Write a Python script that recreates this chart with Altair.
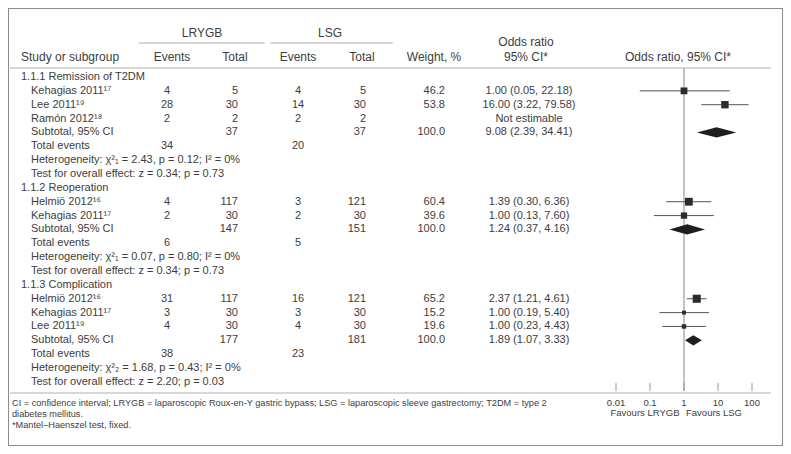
import altair as alt
import pandas as pd

FONT = "Liberation Sans"
TXT = "#3d3d3d"
LINE = "#b0b0b0"
BORDER = "#8c8c8c"
MARK = "#2b2b2b"

# ---------------- data ----------------
row_labels = [
    "1.1.1 Remission of T2DM", "Kehagias 2011\u00b9\u2077", "Lee 2011\u00b9\u2079", "Ram\u00f3n 2012\u00b9\u2078",
    "Subtotal, 95% CI", "Total events",
    "Heterogeneity: \u03c7\u00b2\u2081 = 2.43, p = 0.12; I\u00b2 = 0%",
    "Test for overall effect: z = 0.34; p = 0.73",
    "1.1.2 Reoperation", "Helmi\u00f6 2012\u00b9\u2076", "Kehagias 2011\u00b9\u2077",
    "Subtotal, 95% CI", "Total events",
    "Heterogeneity: \u03c7\u00b2\u2081 = 0.07, p = 0.80; I\u00b2 = 0%",
    "Test for overall effect: z = 0.34; p = 0.73",
    "1.1.3 Complication", "Helmi\u00f6 2012\u00b9\u2076", "Kehagias 2011\u00b9\u2077", "Lee 2011\u00b9\u2079",
    "Subtotal, 95% CI", "Total events",
    "Heterogeneity: \u03c7\u00b2\u2082 = 1.68, p = 0.43; I\u00b2 = 0%",
    "Test for overall effect: z = 2.20; p = 0.03",
]
row_heading = [True, False, False, False, False, False, False, False,
               True, False, False, False, False, False, False,
               True, False, False, False, False, False, False, False]
lrygb_events = ["", "4", "28", "2", "", "34", "", "",
                "", "4", "2", "", "6", "", "",
                "", "31", "3", "4", "", "38", "", ""]
lrygb_total = ["", "5", "30", "2", "37", "", "", "",
               "", "117", "30", "147", "", "", "",
               "", "117", "30", "30", "177", "", "", ""]
lsg_events = ["", "4", "14", "2", "", "20", "", "",
              "", "3", "2", "", "5", "", "",
              "", "16", "3", "4", "", "23", "", ""]
lsg_total = ["", "5", "30", "2", "37", "", "", "",
             "", "121", "30", "151", "", "", "",
             "", "121", "30", "30", "181", "", "", ""]
weights = ["", "46.2", "53.8", "", "100.0", "", "", "",
           "", "60.4", "39.6", "100.0", "", "", "",
           "", "65.2", "15.2", "19.6", "100.0", "", "", ""]
or_text = ["", "1.00 (0.05, 22.18)", "16.00 (3.22, 79.58)", "Not estimable", "9.08 (2.39, 34.41)", "", "", "",
           "", "1.39 (0.30, 6.36)", "1.00 (0.13, 7.60)", "1.24 (0.37, 4.16)", "", "", "",
           "", "2.37 (1.21, 4.61)", "1.00 (0.19, 5.40)", "1.00 (0.23, 4.43)", "1.89 (1.07, 3.33)", "", "", ""]

study_rows = [1, 2, 9, 10, 16, 17, 18]
study_or = [1.00, 16.00, 1.39, 1.00, 2.37, 1.00, 1.00]
study_lo = [0.05, 3.22, 0.30, 0.13, 1.21, 0.19, 0.23]
study_hi = [22.18, 79.58, 6.36, 7.60, 4.61, 5.40, 4.43]
study_w = [46.2, 53.8, 60.4, 39.6, 65.2, 15.2, 19.6]

sub_rows = [4, 11, 19]
sub_or = [9.08, 1.24, 1.89]
sub_lo = [2.39, 0.37, 1.07]
sub_hi = [34.41, 4.16, 3.33]

tick_vals = [0.01, 0.1, 1, 10, 100]
tick_text = ["0.01", "0.1", "1", "10", "100"]

header_top = ["LRYGB", "LSG", "Odds ratio"]
header_bottom = ["Study or subgroup", "Events", "Total", "Events", "Total",
                 "Weight, %", "95% CI*", "Odds ratio, 95% CI*"]
favours = ["Favours LRYGB", "Favours LSG"]
footnotes = [
    "CI = confidence interval; LRYGB = laparoscopic Roux-en-Y gastric bypass; LSG = laparoscopic sleeve gastrectomy; T2DM = type 2",
    "diabetes mellitus.",
    "*Mantel\u2013Haenszel test, fixed.",
]

# ---------------- tables ----------------
table = pd.DataFrame({
    "row": list(range(len(row_labels))), "label": row_labels, "heading": row_heading,
    "ev1": lrygb_events, "tot1": lrygb_total, "ev2": lsg_events, "tot2": lsg_total,
    "w": weights, "ci": or_text,
})
studies = pd.DataFrame({"row": study_rows, "or": study_or, "lo": study_lo,
                        "hi": study_hi, "w": study_w})
dia_pts = []
for r, e, lo, hi in zip(sub_rows, sub_or, sub_lo, sub_hi):
    dia_pts += [dict(g=r, x=lo, ya=r, yb=r),
                dict(g=r, x=e, ya=r - 0.37, yb=r + 0.37),
                dict(g=r, x=hi, ya=r, yb=r)]
diamonds = pd.DataFrame(dia_pts)
ticks = pd.DataFrame({"v": tick_vals, "t": tick_text})

# ---------------- scales ----------------
YS = alt.Scale(domain=[0, 22], range=[69, 373.9], nice=False, zero=False)
XS = alt.Scale(type="log", domain=[0.01, 100], range=[608, 744], nice=False)


def Y(f):
    return alt.Y(f, scale=YS, axis=None)


def X(f):
    return alt.X(f, scale=XS, axis=None)


def col(field, x, align, filt=None):
    c = alt.Chart(table).mark_text(align=align, baseline="middle", font=FONT,
                                   fontSize=11, color=TXT)
    if filt is not None:
        c = c.transform_filter(filt)
    return c.encode(x=alt.value(x), y=Y("row:Q"), text=f"{field}:N")


def label(text, x, y, size=11, align="center"):
    return alt.Chart(pd.DataFrame({"t": [text]})).mark_text(
        align=align, baseline="middle", font=FONT, fontSize=size, color=TXT
    ).encode(x=alt.value(x), y=alt.value(y), text="t:N")


def hline(x1, x2, y, color=LINE, w=1):
    return alt.Chart(pd.DataFrame({"a": [0]})).mark_rule(color=color, strokeWidth=w).encode(
        x=alt.value(x1), x2=alt.value(x2), y=alt.value(y))


def vline(x, y1, y2, color=BORDER, w=1):
    return alt.Chart(pd.DataFrame({"a": [0]})).mark_rule(color=color, strokeWidth=w).encode(
        x=alt.value(x), y=alt.value(y1), y2=alt.value(y2))


layers = []
# outer frame
layers += [
    hline(0, 775, 0.5, BORDER), hline(0, 775, 437.5, BORDER),
    vline(0.5, 0, 438), vline(774.5, 0, 438),
]
# header
layers += [
    label(header_top[0], 194, 25, 12), label(header_top[1], 322, 25, 12),
    label(header_top[2], 518, 34, 12),
    label(header_bottom[0], 13, 49, 12, "left"),
    label(header_bottom[1], 164, 49, 12), label(header_bottom[2], 227, 49, 12),
    label(header_bottom[3], 290, 49, 12), label(header_bottom[4], 354, 49, 12),
    label(header_bottom[5], 426, 49, 12), label(header_bottom[6], 518, 49, 12),
    label(header_bottom[7], 670, 49, 12),
    hline(131, 257, 35), hline(262, 385, 35),
    hline(2, 763, 60), hline(2, 763, 385),
]
# table columns
layers += [
    col("label", 13, "left", "datum.heading"),
    col("label", 23, "left", "!datum.heading"),
    col("ev1", 159, "center"), col("tot1", 230, "right"),
    col("ev2", 290, "center"), col("tot2", 358, "right"),
    col("w", 437, "right"), col("ci", 521, "center"),
]
# forest plot
layers += [
    alt.Chart(pd.DataFrame({"v": [1.0]})).mark_rule(color="#999999", strokeWidth=1.2).encode(
        x=X("v:Q"), y=alt.value(60), y2=alt.value(383)),
    alt.Chart(studies).mark_rule(color="#555555", strokeWidth=1).encode(
        x=X("lo:Q"), x2="hi:Q", y=Y("row:Q")),
    alt.Chart(studies).mark_square(color=MARK, opacity=1, filled=True).encode(
        x=X("or:Q"), y=Y("row:Q"), size=alt.Size("w:Q", scale=None)),
    alt.Chart(diamonds).mark_area(color="#1e1e1e", orient="vertical", opacity=1).encode(
        x=X("x:Q"), y=Y("ya:Q"), y2="yb:Q", detail="g:N"),
    alt.Chart(ticks).mark_rule(color="#999999", strokeWidth=1).encode(
        x=X("v:Q"), y=alt.value(375), y2=alt.value(383)),
    alt.Chart(ticks).mark_text(baseline="middle", font=FONT, fontSize=9.5, color=TXT).encode(
        x=X("v:Q"), y=alt.value(395), text="t:N"),
    label(favours[0], 637, 405, 9.5), label(favours[1], 706, 405, 9.5),
]
# footnotes
layers += [
    label(footnotes[0], 4, 395, 9.2, "left"),
    label(footnotes[1], 4, 406, 9.2, "left"),
    label(footnotes[2], 4, 417, 9.2, "left"),
]

chart = alt.layer(*layers).properties(
    width=775, height=438, padding=0, autosize=alt.AutoSizeParams(type="none")
).configure_view(strokeWidth=0).configure(background="white")

chart.save("out.html", embed_options={"renderer": "svg", "actions": False})
